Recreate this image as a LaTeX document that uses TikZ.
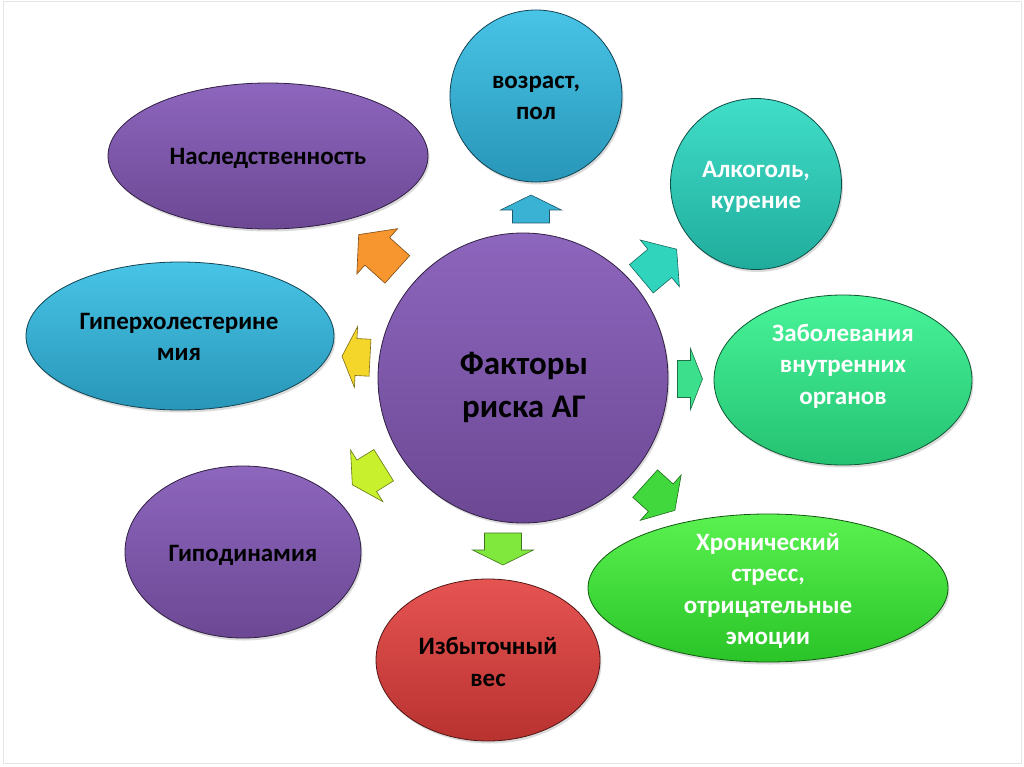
\documentclass[tikz,border=0pt]{standalone}
\usepackage{fontspec}
\setmainfont{Carlito}
\usetikzlibrary{shapes.geometric,shadows}
\definecolor{purpT}{HTML}{8D66BD}
\definecolor{purpB}{HTML}{6C4894}
\definecolor{blueT}{HTML}{48C4E6}
\definecolor{blueB}{HTML}{2896B8}
\definecolor{tealT}{HTML}{40DEC8}
\definecolor{tealB}{HTML}{20AC9C}
\definecolor{mintT}{HTML}{48F498}
\definecolor{mintB}{HTML}{24C272}
\definecolor{grnT}{HTML}{5AF250}
\definecolor{grnB}{HTML}{2AC428}
\definecolor{redT}{HTML}{E65452}
\definecolor{redB}{HTML}{B83230}
\definecolor{arOrange}{HTML}{F7962E}
\definecolor{arBlue}{HTML}{3AB2D4}
\definecolor{arTeal}{HTML}{30D4BC}
\definecolor{arMint}{HTML}{3CE08C}
\definecolor{arGreen}{HTML}{40D83C}
\definecolor{arLgreen}{HTML}{80E83C}
\definecolor{arLime}{HTML}{C8F02C}
\definecolor{arYellow}{HTML}{F4D62A}
\tikzset{
  bubble/.style={ellipse, inner sep=0pt, line width=0.8pt,
    drop shadow={opacity=0.28, shadow xshift=1.5pt, shadow yshift=-2.5pt}},
  purplebub/.style={bubble, top color=purpT, bottom color=purpB, draw=purpB!45!black},
  bluebub/.style={bubble, top color=blueT, bottom color=blueB, draw=blueB!45!black},
  tealbub/.style={bubble, top color=tealT, bottom color=tealB, draw=tealB!45!black},
  mintbub/.style={bubble, top color=mintT, bottom color=mintB, draw=mintB!45!black},
  greenbub/.style={bubble, top color=grnT, bottom color=grnB, draw=grnB!45!black},
  redbub/.style={bubble, top color=redT, bottom color=redB, draw=redB!45!black},
  lbl/.style={font=\fontsize{25}{31.5}\selectfont\bfseries, align=center, text=black, inner sep=0pt},
  lblw/.style={lbl, text=white},
  bigl/.style={font=\fontsize{33}{43}\selectfont\bfseries, align=center, text=black, inner sep=0pt},
  arstyle/.style={line width=0.6pt, line join=miter, fill=#1, draw=#1!50!black}
}
% block arrow: #1 coordinate, #2 angle, #3 shaft length, #4 head length, #5 colour
\newcommand{\myblockarrow}[5]{%
  \pgfmathsetmacro{\arA}{-(#3+#4)/2}%
  \pgfmathsetmacro{\arB}{\arA+#3}%
  \pgfmathsetmacro{\arC}{(#3+#4)/2}%
  \begin{scope}[shift={(#1)}, rotate=#2]
    \path[arstyle=#5] (\arA,-18.5) -- (\arB,-18.5) -- (\arB,-30.5) -- (\arC,0)
      -- (\arB,30.5) -- (\arB,18.5) -- (\arA,18.5) -- cycle;
  \end{scope}}
\begin{document}
\begin{tikzpicture}[x=1pt,y=-1pt]
\useasboundingbox (0,0) rectangle (1024,767);
\fill[white] (0,0) rectangle (1024,767);
\draw[black!10, line width=1pt] (3,2) rectangle (1021,763);

% bubbles
\node[purplebub, minimum width=320pt, minimum height=146pt] (nasl) at (268,156) {};
\node[bluebub, minimum width=172pt, minimum height=172pt] (vozr) at (536,96) {};
\node[tealbub, minimum width=171pt, minimum height=171pt] (alko) at (756,184) {};
\node[mintbub, minimum width=258pt, minimum height=170pt] (zabo) at (843,380) {};
\node[greenbub, minimum width=360pt, minimum height=148pt] (hron) at (768,588) {};
\node[redbub, minimum width=224pt, minimum height=162pt] (izb) at (488,660) {};
\node[purplebub, minimum width=236pt, minimum height=172pt] (gipo) at (243,552) {};
\node[bluebub, minimum width=308pt, minimum height=148pt] (giper) at (180,336) {};
\node[purplebub, minimum width=290pt, minimum height=290pt] (center) at (523,378) {};

% labels
\node[lbl] (naslT) at (268,158) {Наследственность};
\node[lbl] (vozrT) at (536,98) {возраст,\\пол};
\node[lblw] (alkoT) at (756,187) {Алкоголь,\\курение};
\node[lblw] (zaboT) at (843,366) {Заболевания\\внутренних\\органов};
\node[lblw] (hronT) at (768,591) {Хронический\\стресс,\\отрицательные\\эмоции};
\node[lbl] (izbT) at (488,662) {Избыточный\\вес};
\node[lbl] (gipoT) at (243,555) {Гиподинамия};
\node[lbl] (giperT) at (179,337) {Гиперхолестерине\\мия};
\node[bigl] (centerT) at (524,387) {Факторы\\риска АГ};

% arrows
\coordinate (aOr) at (378,252);
\coordinate (aTop) at (531,209);
\coordinate (aTeal) at (659,264);
\coordinate (aRight) at (690,379);
\coordinate (aDR) at (660,497);
\coordinate (aDown) at (503,549);
\coordinate (aLime) at (368,475);
\coordinate (aYel) at (356,357);
\myblockarrow{aOr}{138}{27}{25}{arOrange}
\myblockarrow{aTop}{90}{13}{15}{arBlue}
\myblockarrow{aTeal}{40}{24}{22}{arTeal}
\myblockarrow{aRight}{0}{13}{12}{arMint}
\myblockarrow{aDR}{-42}{21}{19}{arGreen}
\myblockarrow{aDown}{-90}{17}{15}{arLgreen}
\myblockarrow{aLime}{-148}{20}{17}{arLime}
\myblockarrow{aYel}{177}{14}{14}{arYellow}
\end{tikzpicture}
\end{document}
